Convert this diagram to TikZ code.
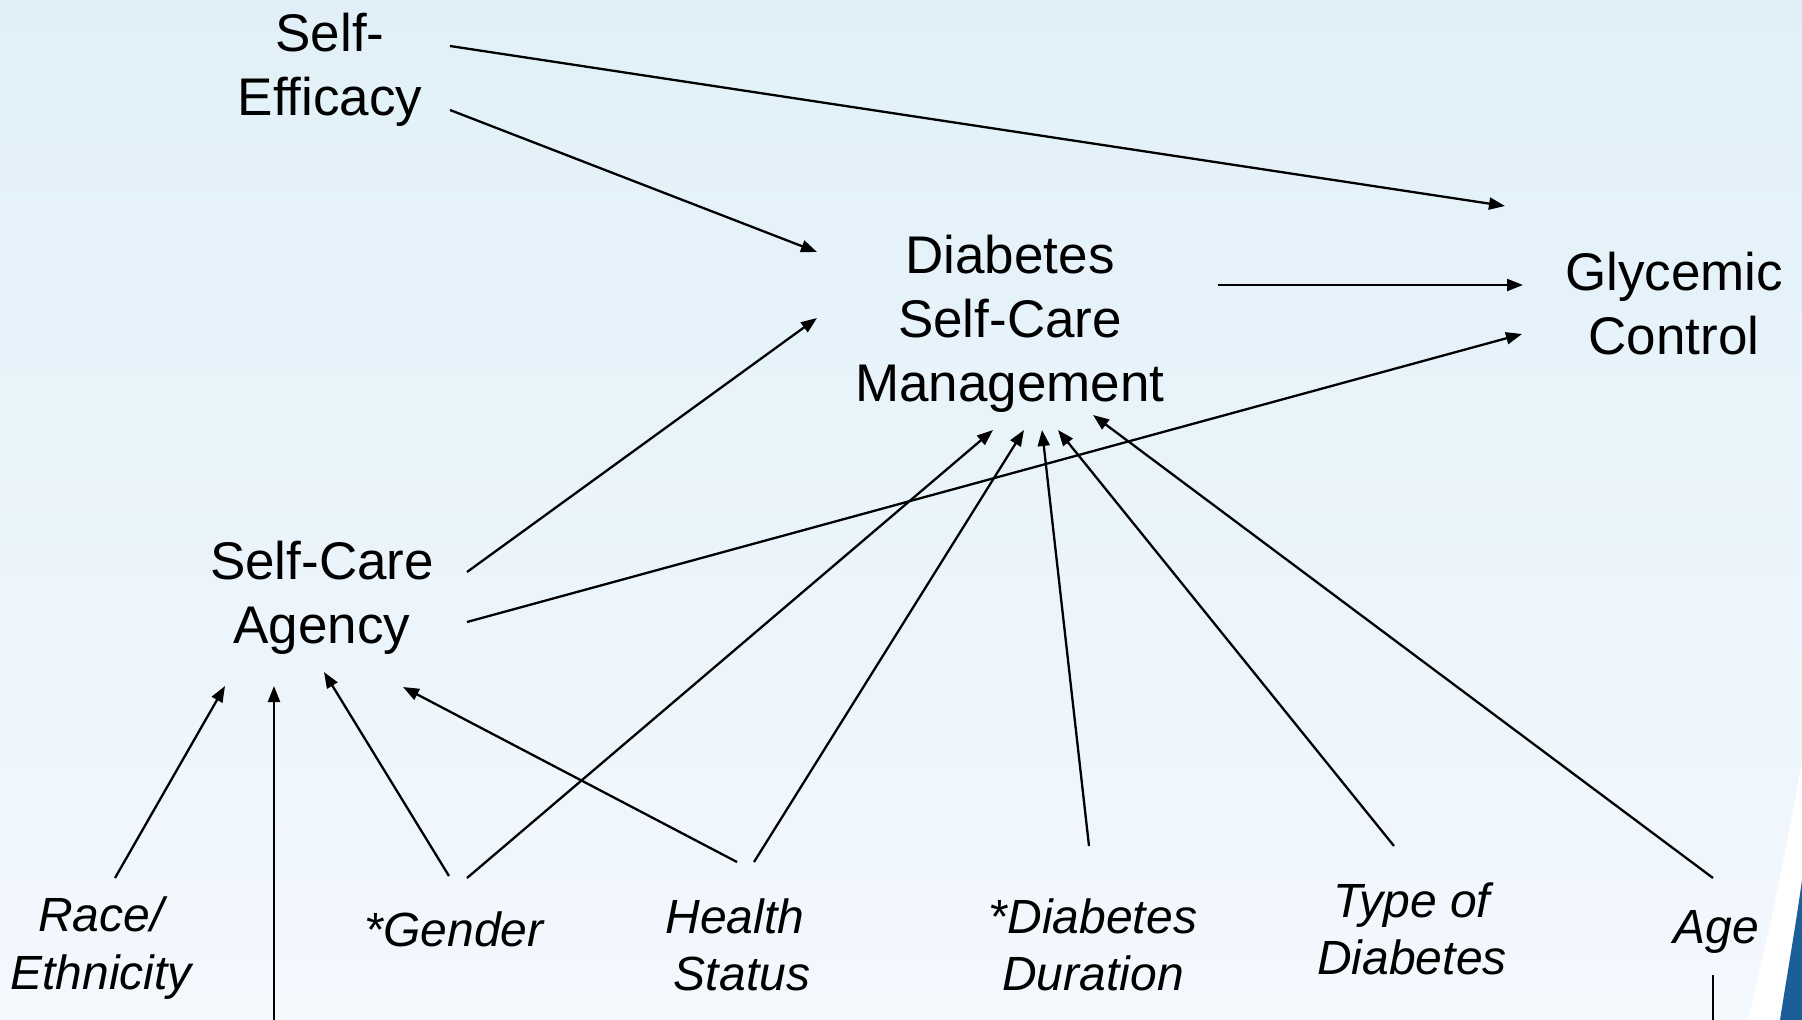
\documentclass[tikz,border=0pt]{standalone}
\usepackage{fontspec}
\setmainfont{Liberation Sans}
\usetikzlibrary{calc,arrows.meta}
\definecolor{bgtop}{HTML}{E1F0F8}
\definecolor{bgbot}{HTML}{F3F8FD}
\definecolor{swblue}{HTML}{1C5E98}
\tikzset{
  big/.style={align=center,inner sep=0pt,font=\fontsize{53}{64}\selectfont},
  small/.style={align=center,inner sep=0pt,font=\fontsize{48}{57.5}\selectfont\itshape},
  arr/.style={line width=2.3pt,-{Triangle[length=16pt,width=12pt]}},
  plain/.style={line width=2.3pt}
}
\begin{document}
\begin{tikzpicture}[x=1pt,y=-1pt]
\useasboundingbox (0,0) rectangle (1802,1020);
\shade[top color=bgtop,bottom color=bgbot] (0,0) rectangle (1802,1020);
% corner swoosh
\fill[white] (1802,760) .. controls (1785,860) and (1765,950) .. (1748,1020) -- (1802,1020) -- cycle;
\fill[swblue] (1802,880) .. controls (1795,930) and (1787,975) .. (1780,1020) -- (1802,1020) -- cycle;

\node[big] (se) at (330,70) {Self-\\Efficacy};
\node[big] (dscm) at (1010,324) {Diabetes\\Self-Care\\Management};
\node[big] (gc) at (1674,304) {Glycemic\\Control};
\node[big] (sca) at (322,598) {Self-Care\\Agency};
\node[small] (race) at (101,948) {Race/\\Ethnicity};
\node[small] (gender) at (454,929) {*Gender};
\node[small] (health) at (735,945) {Health\\\hspace*{14pt}Status};
\node[small] (dur) at (1093,945) {*Diabetes\\Duration};
\node[small] (type) at (1412,929) {Type of\\Diabetes};
\node[small] (age) at (1716,932) {Age};
\coordinate (bottomA) at (274,1020);
\coordinate (bottomB) at (1713,1020);

\draw[arr] ($(se)+(120,-24)$) -- ($(gc)+(-169,-98)$);
\draw[arr] ($(se)+(120,40)$) -- ($(dscm)+(-193,-72)$);
\draw[arr] ($(dscm)+(208,-39)$) -- ($(gc)+(-151,-19)$);
\draw[arr] ($(sca)+(145,-26)$) -- ($(dscm)+(-193,-6)$);
\draw[arr] ($(sca)+(145,24)$) -- ($(gc)+(-152,30)$);
\draw[arr] ($(race)+(14,-70)$) -- ($(sca)+(-97,88)$);
\draw[arr] (bottomA) -- ($(sca)+(-48,88)$);
\draw[arr] ($(gender)+(-5,-53)$) -- ($(sca)+(2,74)$);
\draw[arr] ($(gender)+(13,-51)$) -- ($(dscm)+(-17,106)$);
\draw[arr] ($(health)+(2,-83)$) -- ($(sca)+(81,89)$);
\draw[arr] ($(health)+(19,-83)$) -- ($(dscm)+(14,106)$);
\draw[arr] ($(dur)+(-4,-99)$) -- ($(dscm)+(32,106)$);
\draw[arr] ($(type)+(-18,-83)$) -- ($(dscm)+(48,106)$);
\draw[arr] ($(age)+(-3,-54)$) -- ($(dscm)+(83,91)$);
\draw[plain] ($(age)+(-3,43)$) -- (bottomB);
\end{tikzpicture}
\end{document}
